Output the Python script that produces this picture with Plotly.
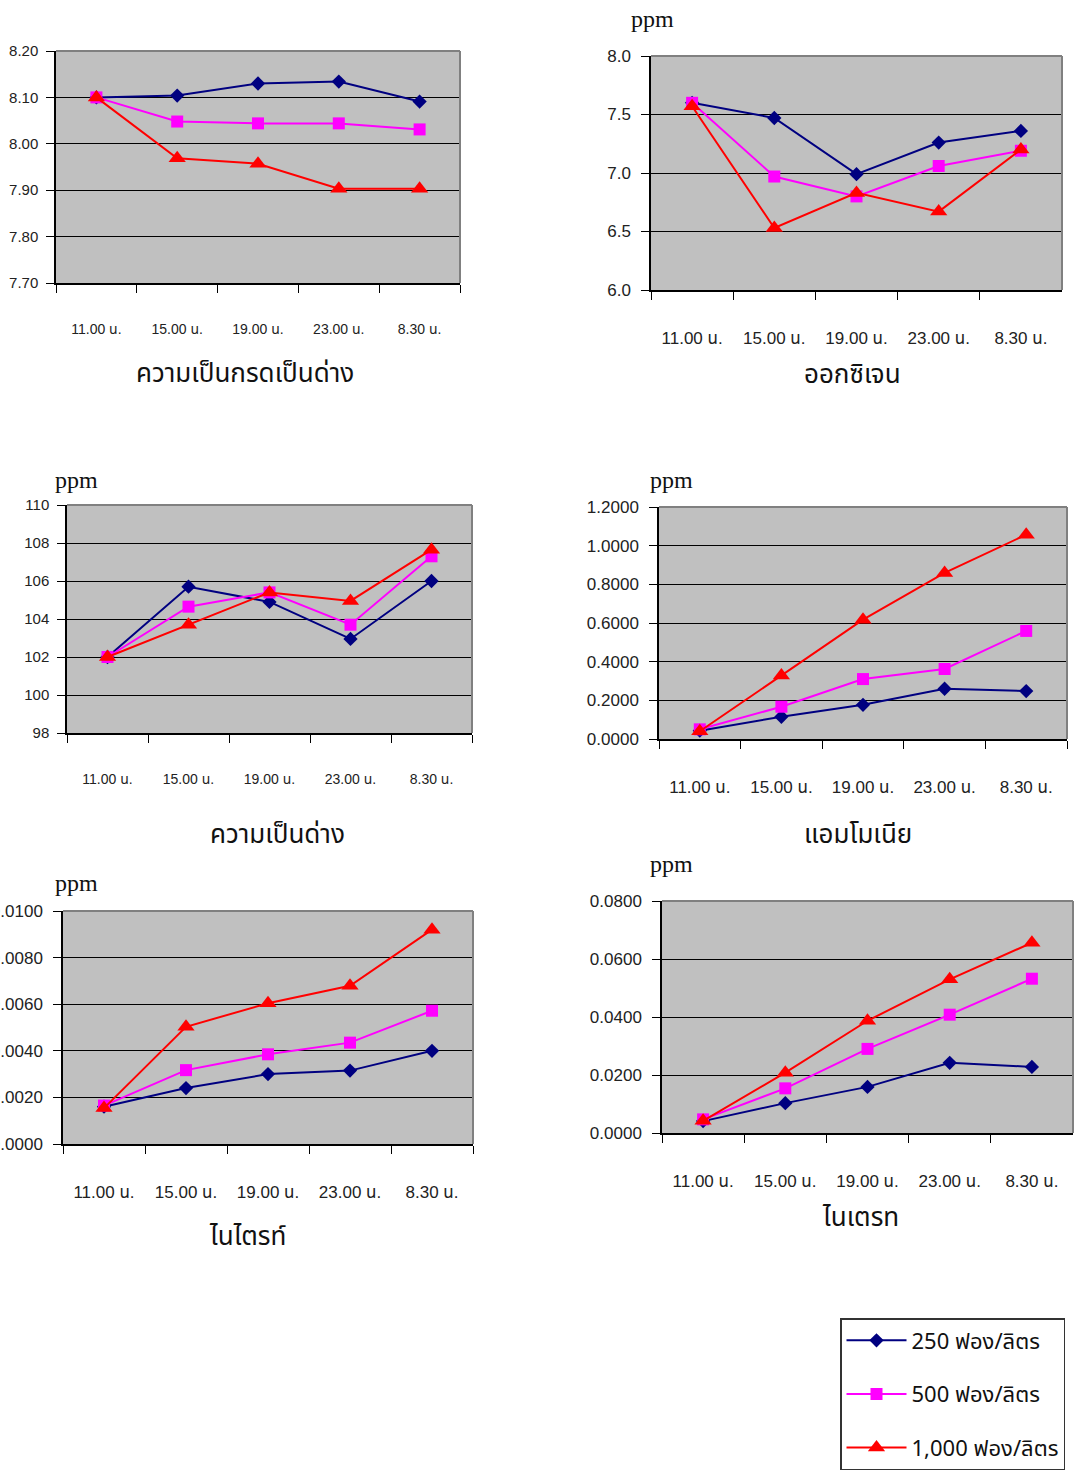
import plotly.graph_objects as go

W, H = 1079, 1470

# sampling times (category axis) and stocking densities
times = ["11.00 น.", "15.00 น.", "19.00 น.", "23.00 น.", "8.30 น."]
series_names = ["250 ฟอง/ลิตร", "500 ฟอง/ลิตร", "1,000 ฟอง/ลิตร"]

# pH
ph_250 = [8.100, 8.104, 8.130, 8.134, 8.091]
ph_500 = [8.100, 8.048, 8.044, 8.044, 8.031]
ph_1000 = [8.100, 7.969, 7.957, 7.903, 7.903]

# dissolved oxygen (ppm)
do_250 = [7.60, 7.47, 6.99, 7.26, 7.36]
do_500 = [7.60, 6.97, 6.80, 7.06, 7.19]
do_1000 = [7.57, 6.53, 6.83, 6.67, 7.20]

# alkalinity (ppm)
alk_250 = [102.0, 105.7, 104.9, 102.95, 106.0]
alk_500 = [102.0, 104.65, 105.4, 103.7, 107.3]
alk_1000 = [102.0, 103.7, 105.4, 104.95, 107.65]

# ammonia (ppm)
nh3_250 = [0.043, 0.115, 0.177, 0.260, 0.248]
nh3_500 = [0.050, 0.167, 0.310, 0.362, 0.559]
nh3_1000 = [0.040, 0.329, 0.617, 0.859, 1.057]

# nitrite (ppm)
no2_250 = [0.0016, 0.0024, 0.0030, 0.00315, 0.0040]
no2_500 = [0.00165, 0.00317, 0.00385, 0.00435, 0.00572]
no2_1000 = [0.00154, 0.00503, 0.00604, 0.00679, 0.0092]

# nitrate (ppm)
no3_250 = [0.0041, 0.0103, 0.0159, 0.0242, 0.0228]
no3_500 = [0.0047, 0.0154, 0.0290, 0.0408, 0.0532]
no3_1000 = [0.0042, 0.0208, 0.0387, 0.0530, 0.0656]

colors = ["#000080", "#FF00FF", "#FF0000"]
symbols = ["diamond", "square", "triangle-up"]
msizes = [11, 12, 15]

NUM_FONT = "Liberation Sans, Arial, Noto Sans Thai, sans-serif"
THAI_FONT = "Noto Sans Thai, Noto Sans Thai UI, Loma, Garuda, Norasi, sans-serif"
SERIF = "Liberation Serif, Times New Roman, serif"

# panel boxes in pixels: left, right, top, bottom
panels = [
    dict(data=[ph_250, ph_500, ph_1000], box=(56, 460, 51, 283), rng=(7.70, 8.20),
         dtick=0.1, fmt=".2f", fs=15, title="ความเป็นกรดเป็นด่าง", tpos=(245, 374), ppm=None),
    dict(data=[do_250, do_500, do_1000], box=(651, 1062, 56, 290), rng=(6.0, 8.0),
         dtick=0.5, fmt=".1f", fs=17, title="ออกซิเจน", tpos=(852, 375), ppm=(652, 19)),
    dict(data=[alk_250, alk_500, alk_1000], box=(67, 472, 505, 733), rng=(98, 110),
         dtick=2, fmt="d", fs=15, title="ความเป็นด่าง", tpos=(277, 835), ppm=(76, 480)),
    dict(data=[nh3_250, nh3_500, nh3_1000], box=(659, 1067, 507, 739), rng=(0, 1.2),
         dtick=0.2, fmt=".4f", fs=17, title="แอมโมเนีย", tpos=(858, 835), ppm=(671, 480)),
    dict(data=[no2_250, no2_500, no2_1000], box=(63, 473, 911, 1144), rng=(0, 0.01),
         dtick=0.002, fmt=".4f", fs=17, title="ไนไตรท์", tpos=(247, 1237), ppm=(76, 883)),
    dict(data=[no3_250, no3_500, no3_1000], box=(662, 1073, 901, 1133), rng=(0, 0.08),
         dtick=0.02, fmt=".4f", fs=17, title="ไนเตรท", tpos=(860, 1218), ppm=(671, 864)),
]

fig = go.Figure()
annotations = []
shapes = []
layout_axes = {}

for i, p in enumerate(panels, start=1):
    xa = "x" if i == 1 else f"x{i}"
    ya = "y" if i == 1 else f"y{i}"
    for s, vals in enumerate(p["data"]):
        fig.add_trace(go.Scatter(
            x=times, y=vals, xaxis=xa, yaxis=ya,
            mode="lines+markers", name=series_names[s],
            legendgroup=series_names[s], showlegend=(i == 1),
            line=dict(color=colors[s], width=2),
            marker=dict(symbol=symbols[s], size=msizes[s], color=colors[s],
                        line=dict(width=0)),
        ))

    l, r, t, b = p["box"]
    small = p["fs"] == 15
    layout_axes["xaxis" if i == 1 else f"xaxis{i}"] = dict(
        domain=[l / W, r / W], anchor=ya, type="category", automargin=False,
        categoryorder="array", categoryarray=times, range=[-0.5, 4.5],
        tickson="boundaries", ticks="outside", ticklen=8, tickwidth=1,
        tickcolor="black", showline=True, linecolor="black", linewidth=1.5,
        showgrid=False, zeroline=False, ticklabelstandoff=32,
        tickfont=dict(family=NUM_FONT, size=14 if small else 17, color="#222"),
    )
    layout_axes["yaxis" if i == 1 else f"yaxis{i}"] = dict(
        domain=[1 - b / H, 1 - t / H], anchor=xa, range=list(p["rng"]),
        automargin=False,
        tick0=p["rng"][0], dtick=p["dtick"], tickformat=p["fmt"],
        ticks="outside", ticklen=8, tickwidth=1, tickcolor="black",
        showline=True, linecolor="black", linewidth=1.5,
        showgrid=True, gridcolor="black", gridwidth=1, zeroline=False,
        ticklabelstandoff=5 if small else 7,
        tickfont=dict(family=NUM_FONT, size=p["fs"], color="#222"),
    )
    # grey plot-area frame on the top and right edges
    shapes.append(dict(type="line", xref=f"{xa} domain", yref=f"{ya} domain",
                       x0=0, x1=1, y0=1, y1=1, line=dict(color="#808080", width=2),
                       layer="above"))
    shapes.append(dict(type="line", xref=f"{xa} domain", yref=f"{ya} domain",
                       x0=1, x1=1, y0=0, y1=1, line=dict(color="#808080", width=2),
                       layer="above"))

    tx, ty = p["tpos"]
    annotations.append(dict(text=p["title"], x=tx / W, y=1 - ty / H, xref="paper",
                            yref="paper", xanchor="center", yanchor="middle",
                            showarrow=False,
                            font=dict(family=THAI_FONT, size=26, color="#111")))
    if p["ppm"]:
        px, py = p["ppm"]
        annotations.append(dict(text="ppm", x=px / W, y=1 - py / H, xref="paper",
                                yref="paper", xanchor="center", yanchor="middle",
                                showarrow=False,
                                font=dict(family=SERIF, size=24, color="#111")))

fig.update_layout(
    width=W, height=H, autosize=False,
    margin=dict(l=0, r=0, t=0, b=0, autoexpand=False),
    paper_bgcolor="white", plot_bgcolor="#C0C0C0",
    annotations=annotations, shapes=shapes,
    legend=dict(x=840 / W, y=1 - 1318 / H, xanchor="left", yanchor="top",
                bgcolor="white", bordercolor="#333", borderwidth=1.5,
                font=dict(family=THAI_FONT, size=22, color="#111"),
                tracegroupgap=22, itemwidth=60),
    **layout_axes,
)

fig.write_html("out.html")
